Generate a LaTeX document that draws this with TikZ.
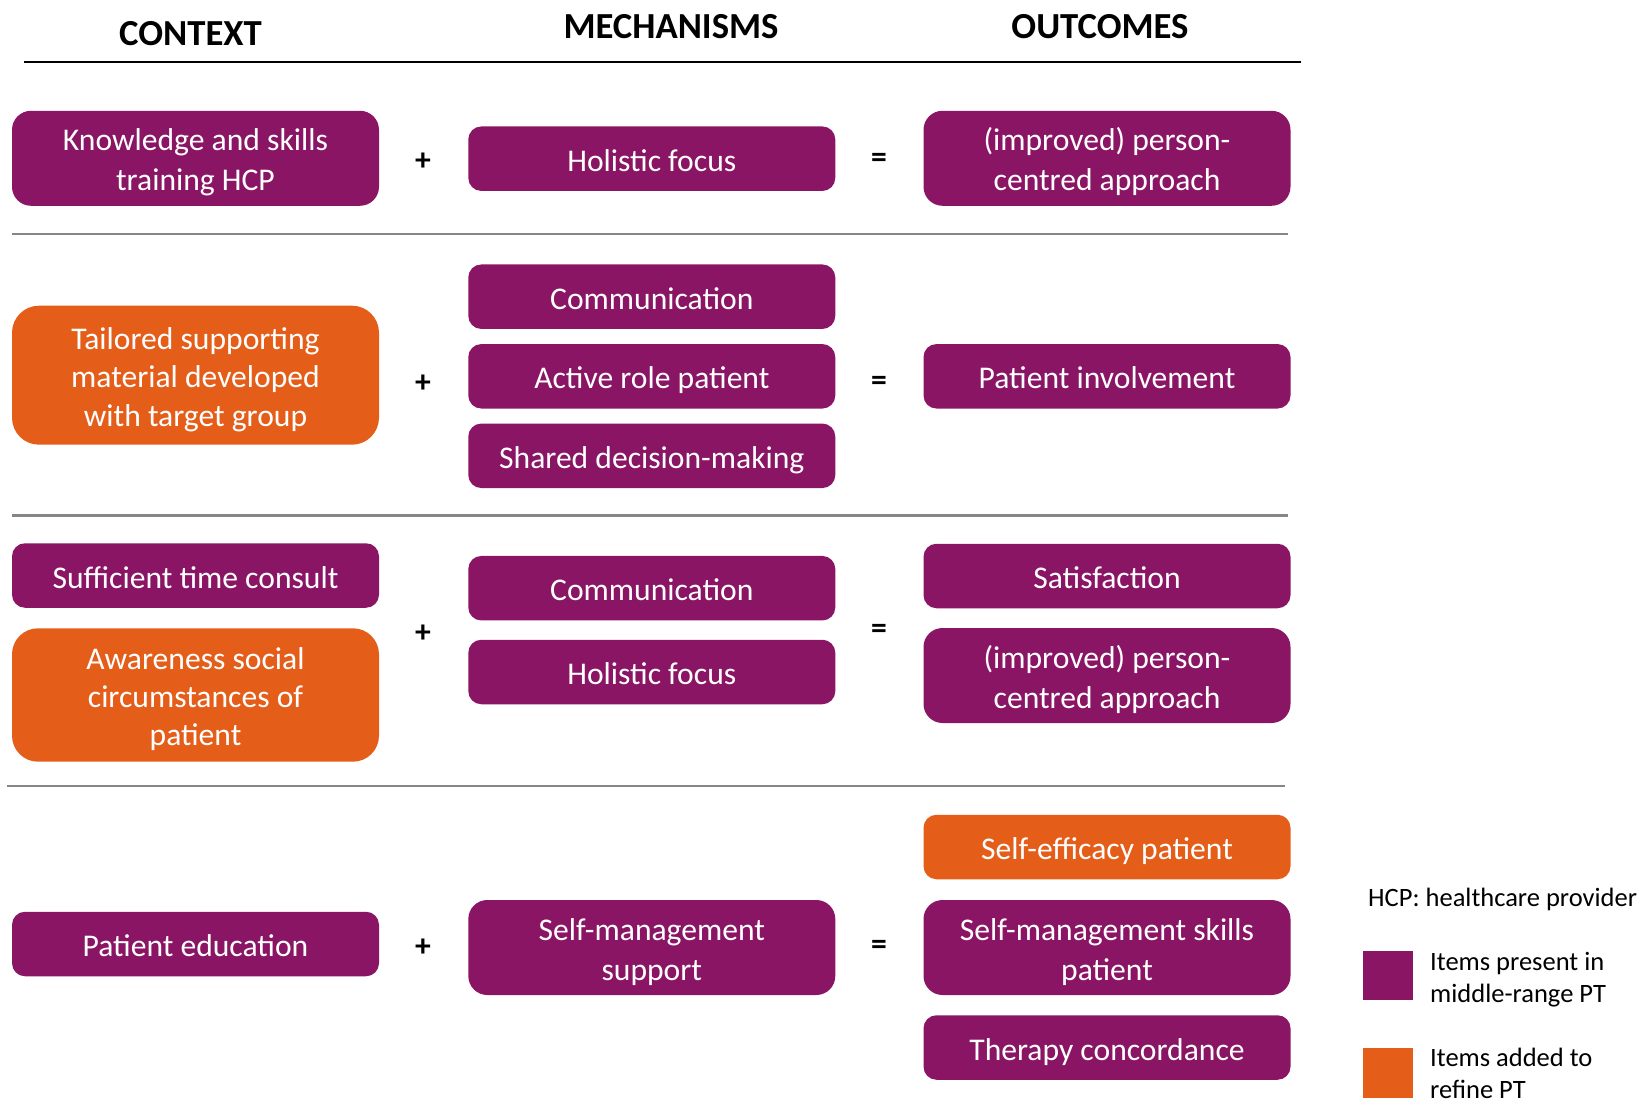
\documentclass[tikz,border=0pt]{standalone}
\usepackage{fontspec}
\setmainfont{Carlito}
\definecolor{ptpurple}{RGB}{139,21,101}
\definecolor{ptorange}{RGB}{228,94,26}
\newcommand{\itemstrut}{\rule[-7pt]{0pt}{39pt}}
\newcommand{\labstrut}{\rule[-6pt]{0pt}{29pt}}

\begin{document}
\begin{tikzpicture}[
		x=1pt,y=-1pt,
		item/.style={fill=ptpurple,text=white,rounded corners=13pt,inner sep=0pt,
			text width=367pt,minimum height=64.5pt,align=flush center,
			font=\fontsize{31.6}{38.4}\selectfont,
			execute at begin node=\itemstrut,execute at end node=\itemstrut},
		added/.style={item,fill=ptorange},
		twoline/.style={minimum height=95pt,rounded corners=19pt},
		op/.style={font=\fontsize{31.6}{37.3}\selectfont\bfseries,inner sep=0pt},
		head/.style={font=\fontsize{36.7}{44}\selectfont\bfseries,inner sep=0pt,anchor=base},
		sep/.style={line width=2.5pt,gray!95!white},
		lab/.style={font=\fontsize{26.5}{32.4}\selectfont,inner sep=0pt,align=flush left,
			text width=210pt,execute at begin node=\labstrut,execute at end node=\labstrut}
		]
		\useasboundingbox (0,0) rectangle (1641,1107);
		% ===== Columns =====
		\def\xc{195.5}   % context
		\def\xm{651.8}   % mechanisms
		\def\xo{1107}    % outcomes
		\def\xp{423}     % plus sign
		\def\xe{879}     % equals sign
		% ===== Headers =====
		\node[head] (hctx) at (190.5,45.5) {CONTEXT};
		\node[head] (hmech) at (671,38.5) {MECHANISMS};
		\node[head] (hout) at (1100,38.5) {OUTCOMES};
		\draw[line width=2pt] (24.3,61.7) -- (1301,61.7);
		% ===== Row 1 =====
		\node[item,twoline] (know) at (\xc,158.3) {Knowledge and skills\\training HCP};
		\node[op] (plusa) at (\xp,161.5) {+};
		\node[item] (holia) at (\xm,158.7) {Holistic focus};
		\node[op] (eqa) at (\xe,160.5) {=};
		\node[item,twoline] (pcaa) at (\xo,158.3) {(improved) person-\\centred approach};
		\draw[sep] (11.5,234) -- (1288,234);
		% ===== Row 2 =====
		\node[added,minimum height=139pt,rounded corners=27pt] (tail) at (\xc,375.2)
		{Tailored supporting\\material developed\\with target group};
		\node[op] (plusb) at (\xp,383.5) {+};
		\node[item] (comma) at (\xm,296.7) {Communication};
		\node[item] (role) at (\xm,376.3) {Active role patient};
		\node[item] (sdm) at (\xm,455.8) {Shared decision-making};
		\node[op] (eqb) at (\xe,383.5) {=};
		\node[item] (invol) at (\xo,376.3) {Patient involvement};
		\draw[sep] (11.5,515.5) -- (1288,515.5);
		% ===== Row 3 =====
		\node[item] (time) at (\xc,575.5) {Sufficient time consult};
		\node[added,minimum height=133.4pt,rounded corners=26pt] (aware) at (\xc,695)
		{Awareness social\\circumstances of\\patient};
		\node[op] (plusc) at (\xp,633.5) {+};
		\node[item] (commb) at (\xm,588.2) {Communication};
		\node[item] (holib) at (\xm,672) {Holistic focus};
		\node[op] (eqc) at (\xe,631.5) {=};
		\node[item] (satis) at (\xo,576) {Satisfaction};
		\node[item,twoline] (pcab) at (\xo,675.5) {(improved) person-\\centred approach};
		\draw[sep] (7.3,786) -- (1285,786);
		% ===== Row 4 =====
		\node[item] (educ) at (\xc,944) {Patient education};
		\node[op] (plusd) at (\xp,947.5) {+};
		\node[item,twoline] (smsup) at (\xm,947.5) {Self-management\\support};
		\node[op] (eqd) at (\xe,947.5) {=};
		\node[added] (effic) at (\xo,847) {Self-efficacy patient};
		\node[item,twoline] (skill) at (\xo,947.5) {Self-management skills\\patient};
		\node[item] (ther) at (\xo,1047.5) {Therapy concordance};
		% ===== Legend =====
		\node[lab,anchor=base west,text width=,execute at begin node={},execute at end node={}] (hcp)
		at (1368,906.7) {HCP: healthcare provider};
		\fill[ptpurple] (1363,951) rectangle (1413,1000);
		\node[lab,anchor=west] (kpres) at (1430,978) {Items present in\\middle-range PT};
		\fill[ptorange] (1363,1048) rectangle (1413,1098);
		\node[lab,anchor=west] (kadd) at (1430,1074) {Items added to\\refine PT};
	\end{tikzpicture}
\end{document}
